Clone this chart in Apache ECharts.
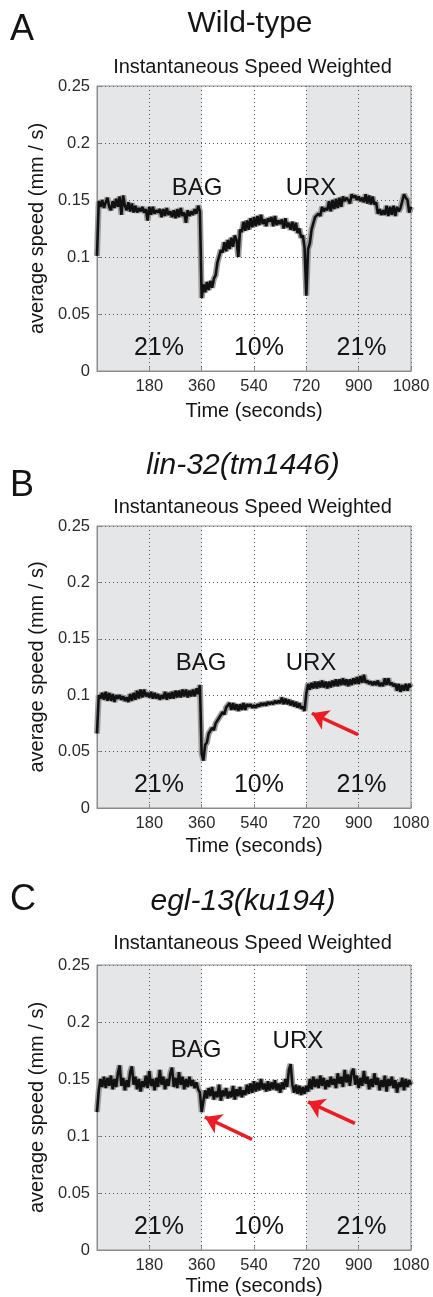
<!DOCTYPE html>
<html>
<head>
<meta charset="utf-8">
<script src="https://cdn.jsdelivr.net/npm/echarts@6/dist/echarts.min.js"></script>
<style>
html,body{margin:0;padding:0;background:#fff;}
#chart{width:433px;height:1297px;}
</style>
</head>
<body>
<div id="chart"></div>
<script>
// ---- DATA ----
const TIME_STEP = 6; // seconds between samples
const xTicks = [0, 180, 360, 540, 720, 900, 1080];
const shadedSpans = [[0, 360], [720, 1080]];
const panelLetters = ['A', 'B', 'C'];
const genotypes = ['Wild-type', 'lin-32(tm1446)', 'egl-13(ku194)'];
const subtitle = 'Instantaneous Speed Weighted';
const zoneLabels = ['21%', '10%', '21%'];
const zoneLabelTimes = [213, 557, 910];
const zoneLabelValue = 0.02;
const stimLabels = ['BAG', 'URX'];
const stimPosA = [[344, 0.160], [736, 0.160]];
const stimPosB = [[358, 0.128], [736, 0.128]];
const stimPosC = [[341, 0.175], [691, 0.183]];
// arrows: [fromTime, fromValue, toTime, toValue]
const arrowsA = [];
const arrowsB = [[898, 0.065, 739, 0.084]];
const arrowsC = [[533, 0.097, 371, 0.1167], [887, 0.111, 726, 0.130]];

// Wild-type speed (mm/s), one value every 6 s from 0 to 1080 s
const speedA = [
  // 0-54
  0.101, 0.149, 0.144, 0.150, 0.143, 0.148, 0.152, 0.144, 0.141, 0.149,
  // 60-114
  0.143, 0.151, 0.144, 0.153, 0.137, 0.154, 0.145, 0.141, 0.148, 0.140,
  // 120-174
  0.147, 0.139, 0.145, 0.139, 0.143, 0.140, 0.144, 0.139, 0.142, 0.132,
  // 180-234
  0.144, 0.137, 0.144, 0.138, 0.141, 0.139, 0.142, 0.135, 0.142, 0.136,
  // 240-294
  0.143, 0.137, 0.140, 0.135, 0.141, 0.134, 0.142, 0.135, 0.143, 0.136,
  // 300-354
  0.139, 0.130, 0.141, 0.136, 0.140, 0.137, 0.142, 0.138, 0.145, 0.140,
  // 360-414
  0.064, 0.076, 0.069, 0.078, 0.071, 0.079, 0.073, 0.081, 0.084, 0.095,
  // 420-474
  0.096, 0.106, 0.104, 0.113, 0.105, 0.115, 0.107, 0.117, 0.109, 0.119,
  // 480-534
  0.115, 0.100, 0.124, 0.122, 0.131, 0.123, 0.132, 0.124, 0.134, 0.126,
  // 540-594
  0.135, 0.127, 0.136, 0.128, 0.137, 0.129, 0.133, 0.127, 0.134, 0.131,
  // 600-654
  0.135, 0.127, 0.136, 0.128, 0.132, 0.129, 0.133, 0.125, 0.134, 0.126,
  // 660-714
  0.130, 0.124, 0.131, 0.123, 0.130, 0.121, 0.125, 0.117, 0.119, 0.108,
  // 720-774
  0.066, 0.107, 0.112, 0.124, 0.125, 0.135, 0.134, 0.138, 0.136, 0.144,
  // 780-834
  0.140, 0.143, 0.141, 0.149, 0.140, 0.150, 0.142, 0.151, 0.143, 0.152,
  // 840-894
  0.144, 0.153, 0.149, 0.152, 0.150, 0.147, 0.155, 0.152, 0.154, 0.150,
  // 900-954
  0.153, 0.149, 0.152, 0.148, 0.155, 0.147, 0.154, 0.146, 0.153, 0.146,
  // 960-1014
  0.148, 0.138, 0.142, 0.137, 0.141, 0.137, 0.145, 0.136, 0.144, 0.137,
  // 1020-1074
  0.145, 0.136, 0.144, 0.140, 0.143, 0.144, 0.155, 0.152, 0.150, 0.139,
  // 1080
  0.144
];

// lin-32(tm1446)
const speedB = [
  // 0-54
  0.066, 0.100, 0.097, 0.102, 0.096, 0.103, 0.095, 0.102, 0.095, 0.101,
  // 60-114
  0.094, 0.100, 0.097, 0.100, 0.096, 0.099, 0.095, 0.098, 0.094, 0.101,
  // 120-174
  0.095, 0.102, 0.096, 0.104, 0.097, 0.105, 0.098, 0.105, 0.099, 0.102,
  // 180-234
  0.098, 0.103, 0.097, 0.102, 0.097, 0.101, 0.096, 0.100, 0.097, 0.103,
  // 240-294
  0.096, 0.102, 0.097, 0.103, 0.097, 0.104, 0.098, 0.104, 0.098, 0.105,
  // 300-354
  0.099, 0.105, 0.098, 0.104, 0.099, 0.105, 0.099, 0.106, 0.101, 0.109,
  // 360-414
  0.048, 0.042, 0.056, 0.058, 0.066, 0.065, 0.071, 0.069, 0.075, 0.075,
  // 420-474
  0.080, 0.079, 0.085, 0.083, 0.089, 0.088, 0.093, 0.087, 0.093, 0.087,
  // 480-534
  0.092, 0.086, 0.092, 0.087, 0.093, 0.087, 0.092, 0.090, 0.092, 0.089,
  // 540-594
  0.091, 0.089, 0.092, 0.090, 0.093, 0.091, 0.093, 0.091, 0.094, 0.092,
  // 600-654
  0.094, 0.092, 0.095, 0.093, 0.095, 0.093, 0.098, 0.092, 0.097, 0.092,
  // 660-714
  0.096, 0.091, 0.095, 0.090, 0.094, 0.089, 0.093, 0.088, 0.090, 0.086,
  // 720-774
  0.102, 0.110, 0.105, 0.111, 0.106, 0.112, 0.106, 0.112, 0.107, 0.113,
  // 780-834
  0.107, 0.112, 0.106, 0.112, 0.107, 0.113, 0.108, 0.114, 0.108, 0.114,
  // 840-894
  0.109, 0.115, 0.109, 0.114, 0.108, 0.114, 0.109, 0.115, 0.110, 0.116,
  // 900-954
  0.110, 0.117, 0.111, 0.118, 0.111, 0.113, 0.110, 0.112, 0.109, 0.112,
  // 960-1014
  0.109, 0.113, 0.108, 0.111, 0.108, 0.115, 0.109, 0.115, 0.109, 0.111,
  // 1020-1074
  0.108, 0.110, 0.104, 0.110, 0.103, 0.109, 0.104, 0.110, 0.104, 0.110,
  // 1080
  0.107
];

// egl-13(ku194)
const speedC = [
  // 0-54
  0.121, 0.140, 0.150, 0.143, 0.152, 0.142, 0.151, 0.144, 0.153, 0.141,
  // 60-114
  0.150, 0.143, 0.155, 0.162, 0.144, 0.151, 0.140, 0.149, 0.143, 0.156,
  // 120-174
  0.161, 0.145, 0.152, 0.141, 0.150, 0.139, 0.148, 0.143, 0.153, 0.142,
  // 180-234
  0.157, 0.144, 0.150, 0.140, 0.151, 0.143, 0.158, 0.145, 0.152, 0.141,
  // 240-294
  0.150, 0.144, 0.155, 0.160, 0.143, 0.151, 0.142, 0.156, 0.145, 0.152,
  // 300-354
  0.141, 0.150, 0.143, 0.152, 0.144, 0.149, 0.142, 0.147, 0.141, 0.138,
  // 360-414
  0.121, 0.131, 0.140, 0.133, 0.142, 0.135, 0.143, 0.132, 0.139, 0.134,
  // 420-474
  0.145, 0.131, 0.140, 0.135, 0.142, 0.133, 0.139, 0.134, 0.144, 0.132,
  // 480-534
  0.141, 0.135, 0.143, 0.134, 0.140, 0.136, 0.145, 0.137, 0.146, 0.138,
  // 540-594
  0.148, 0.139, 0.147, 0.140, 0.150, 0.141, 0.146, 0.139, 0.148, 0.140,
  // 600-654
  0.147, 0.141, 0.149, 0.140, 0.146, 0.138, 0.147, 0.141, 0.150, 0.143,
  // 660-714
  0.158, 0.163, 0.145, 0.138, 0.145, 0.137, 0.144, 0.136, 0.143, 0.137,
  // 720-774
  0.144, 0.139, 0.150, 0.141, 0.152, 0.143, 0.150, 0.142, 0.153, 0.144,
  // 780-834
  0.151, 0.141, 0.149, 0.143, 0.152, 0.145, 0.150, 0.142, 0.155, 0.146,
  // 840-894
  0.152, 0.143, 0.158, 0.147, 0.154, 0.144, 0.156, 0.159, 0.145, 0.153,
  // 900-954
  0.142, 0.151, 0.144, 0.157, 0.146, 0.152, 0.141, 0.150, 0.143, 0.155,
  // 960-1014
  0.145, 0.151, 0.140, 0.149, 0.143, 0.153, 0.139, 0.150, 0.144, 0.152,
  // 1020-1074
  0.142, 0.149, 0.138, 0.147, 0.143, 0.151, 0.140, 0.150, 0.143, 0.149,
  // 1080
  0.145
];

// ---- CHART ----
const FONT = '"Liberation Sans", Arial, Helvetica, sans-serif';
const TXT = '#141414';
const panels = [
  {speed: speedA, stim: stimPosA, arrows: arrowsA, top: 86, height: 285, nameGap: 30, italic: false,
   letterY: 31, titleY: 24, subY: 67},
  {speed: speedB, stim: stimPosB, arrows: arrowsB, top: 526, height: 282, nameGap: 28, italic: true,
   letterY: 487, titleY: 466, subY: 507},
  {speed: speedC, stim: stimPosC, arrows: arrowsC, top: 965, height: 285, nameGap: 26, italic: true,
   letterY: 901, titleY: 902, subY: 943}
];

const grid = [], xAxis = [], yAxis = [], series = [], graphic = [];
panels.forEach((p, i) => {
  grid.push({left: 97, width: 314, top: p.top, height: p.height, show: true, z: 3,
    backgroundColor: 'transparent', borderColor: '#8c8c8c', borderWidth: 1});
  xAxis.push({
    type: 'value', gridIndex: i, min: xTicks[0], max: xTicks[xTicks.length - 1], interval: 180, z: 2,
    name: 'Time (seconds)', nameLocation: 'middle', nameGap: p.nameGap,
    nameTextStyle: {fontFamily: FONT, fontSize: 20, color: TXT},
    axisLine: {show: true, lineStyle: {color: '#8c8c8c'}},
    axisTick: {show: true, inside: true, length: 4, lineStyle: {color: '#8c8c8c'}},
    axisLabel: {fontFamily: FONT, fontSize: 16.5, color: '#2a2a2a', margin: 7,
      formatter: v => (v === 0 ? '' : String(v))},
    splitLine: {show: true, lineStyle: {color: '#555', width: 1, type: [1, 3]}}
  });
  yAxis.push({
    type: 'value', gridIndex: i, min: 0, max: 0.25, interval: 0.05, z: 2,
    name: 'average speed (mm / s)', nameLocation: 'middle', nameGap: 46, nameRotate: 90,
    nameTextStyle: {fontFamily: FONT, fontSize: 20, color: TXT},
    axisLine: {show: true, lineStyle: {color: '#8c8c8c'}},
    axisTick: {show: true, inside: true, length: 4, lineStyle: {color: '#8c8c8c'}},
    axisLabel: {fontFamily: FONT, fontSize: 16.5, color: '#2a2a2a', margin: 7},
    splitLine: {show: true, lineStyle: {color: '#555', width: 1, type: [1, 3]}}
  });
  const pts = p.speed.map((v, k) => [k * TIME_STEP, v]);
  // shaded 21% O2 zones
  series.push({
    type: 'line', xAxisIndex: i, yAxisIndex: i, data: [], z: 1, silent: true,
    markArea: {silent: true, itemStyle: {color: '#e5e6e8'},
      data: shadedSpans.map(s => [{xAxis: s[0]}, {xAxis: s[1]}])}
  });
  // SEM-like gray fringe
  series.push({
    type: 'line', xAxisIndex: i, yAxisIndex: i, data: pts, z: 4, symbol: 'none', silent: true,
    lineStyle: {color: '#9d9d9d', width: 6}, animation: false
  });
  // mean trace
  series.push({
    type: 'line', xAxisIndex: i, yAxisIndex: i, data: pts, z: 5, symbol: 'none', silent: true,
    lineStyle: {color: '#111', width: 2.6}, animation: false
  });
  // text labels
  const labelData = zoneLabels.map((t, k) => ({value: [zoneLabelTimes[k], zoneLabelValue], name: t, fs: 25}))
    .concat(stimLabels.map((t, k) => ({value: p.stim[k], name: t, fs: 24})));
  series.push({
    type: 'scatter', xAxisIndex: i, yAxisIndex: i, z: 6, silent: true, symbolSize: 1,
    itemStyle: {color: 'transparent', opacity: 1},
    data: labelData.map(d => ({value: d.value, name: d.name,
      label: {show: true, position: 'inside', formatter: d.name, fontFamily: FONT, fontSize: d.fs,
        color: TXT, opacity: 1, textBorderWidth: 0}})),
    markLine: p.arrows.length ? {
      silent: true, symbol: ['none', 'arrow'], symbolSize: 16, animation: false,
      label: {show: false},
      lineStyle: {color: '#ed1c24', width: 3.5, type: 'solid', opacity: 1},
      itemStyle: {color: '#ed1c24'},
      data: p.arrows.map(a => [{coord: [a[0], a[1]]}, {coord: [a[2], a[3]]}])
    } : undefined
  });
  graphic.push({type: 'text', left: 10, top: p.letterY - 19,
    style: {text: panelLetters[i], font: '36px ' + FONT, fill: TXT}});
  graphic.push({type: 'text', x: i === 0 ? 250 : 243, y: p.titleY,
    style: {text: genotypes[i], font: (p.italic ? 'italic ' : '') + '30px ' + FONT, fill: TXT,
      textAlign: 'center', textVerticalAlign: 'middle'}});
  graphic.push({type: 'text', x: 252.5, y: p.subY,
    style: {text: subtitle, font: '20px ' + FONT, fill: TXT, textAlign: 'center', textVerticalAlign: 'middle'}});
});

const chart = echarts.init(document.getElementById('chart'), null, {renderer: 'canvas'});
chart.setOption({animation: false, grid, xAxis, yAxis, series, graphic});
</script>
</body>
</html>
